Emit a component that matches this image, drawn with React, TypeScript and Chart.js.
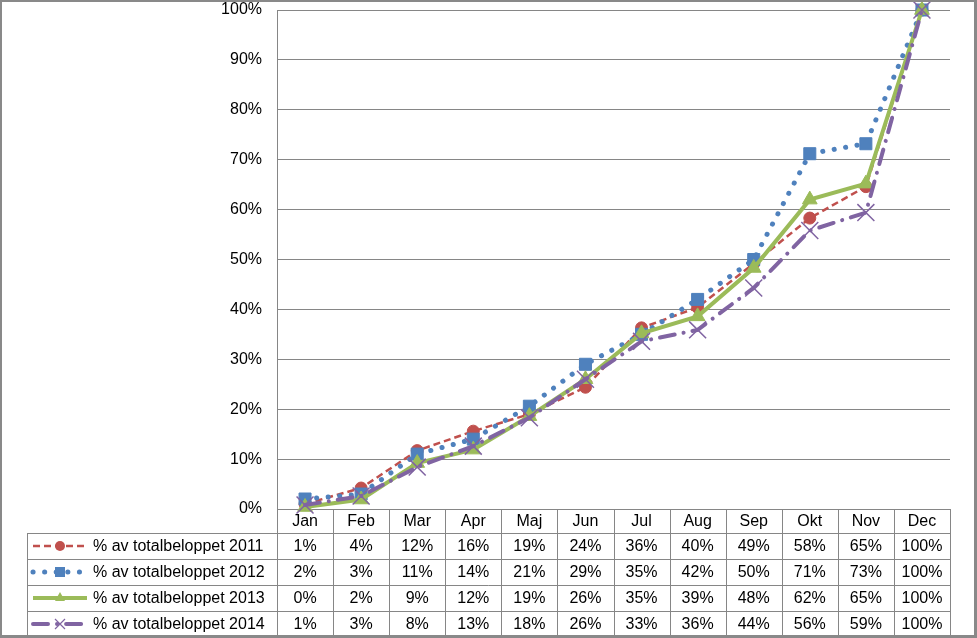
import React, { useEffect, useRef } from "react";
import { Chart, registerables } from "chart.js";

Chart.register(...registerables);

const months = ["Jan", "Feb", "Mar", "Apr", "Maj", "Jun", "Jul", "Aug", "Sep", "Okt", "Nov", "Dec"];
const seriesNames = [
  "% av totalbeloppet 2011",
  "% av totalbeloppet 2012",
  "% av totalbeloppet 2013",
  "% av totalbeloppet 2014",
];
// plotted values (%)
const values2011 = [1.0, 4.2, 11.7, 15.6, 19.0, 24.4, 36.3, 40.4, 49.2, 58.3, 64.6, 100];
const values2012 = [2.0, 3.0, 11.0, 14.0, 20.6, 29.0, 35.0, 42.0, 50.0, 71.2, 73.2, 100];
const values2013 = [0.4, 1.9, 9.2, 11.9, 18.6, 26.0, 35.2, 38.6, 48.3, 62.0, 65.2, 100];
const values2014 = [0.8, 2.6, 8.4, 12.6, 18.3, 26.0, 33.6, 35.9, 44.3, 55.8, 59.4, 100];
// data table labels
const table2011 = ["1%", "4%", "12%", "16%", "19%", "24%", "36%", "40%", "49%", "58%", "65%", "100%"];
const table2012 = ["2%", "3%", "11%", "14%", "21%", "29%", "35%", "42%", "50%", "71%", "73%", "100%"];
const table2013 = ["0%", "2%", "9%", "12%", "19%", "26%", "35%", "39%", "48%", "62%", "65%", "100%"];
const table2014 = ["1%", "3%", "8%", "13%", "18%", "26%", "33%", "36%", "44%", "56%", "59%", "100%"];
const yStep = 10;

const FONT = "16px 'Liberation Sans', Arial, sans-serif";
const GRID = "#868686";

const styles = [
  { color: "#C0504D", width: 2.5, dash: [7, 4], cap: "butt", point: "circle", radius: 6 },
  { color: "#4F81BD", width: 5, dash: [0.1, 11.5], cap: "round", point: "rect", radius: 8.5 },
  { color: "#9BBB59", width: 4, dash: [], cap: "butt", point: "triangle", radius: 8.5 },
  { color: "#8064A2", width: 4, dash: [15, 9, 0.1, 9], cap: "round", point: "crossRot", radius: 12 },
];

const tablePlugin = {
  id: "dataTable",
  afterDraw(chart: any) {
    const ctx = chart.ctx as CanvasRenderingContext2D;
    const area = chart.chartArea;
    const xs = chart.scales.x;
    const colW = (area.right - area.left) / months.length;
    const top = area.bottom;
    const headerBottom = top + 24;
    const rowH = 26;
    const tableBottom = headerBottom + rowH * 4;
    const legendLeft = 27;
    ctx.save();
    ctx.strokeStyle = GRID;
    ctx.lineWidth = 1;
    for (let i = 0; i <= months.length; i++) {
      const x = Math.round(area.left + i * colW) + 0.5;
      ctx.beginPath();
      ctx.moveTo(x, top);
      ctx.lineTo(x, tableBottom);
      ctx.stroke();
    }
    ctx.beginPath();
    ctx.moveTo(legendLeft + 0.5, headerBottom);
    ctx.lineTo(legendLeft + 0.5, tableBottom);
    ctx.stroke();
    for (let r = 0; r <= 4; r++) {
      const y = Math.round(headerBottom + r * rowH) + 0.5;
      ctx.beginPath();
      ctx.moveTo(legendLeft, y);
      ctx.lineTo(Math.round(area.right) + 0.5, y);
      ctx.stroke();
    }
    ctx.fillStyle = "#000";
    ctx.font = FONT;
    ctx.textAlign = "center";
    ctx.textBaseline = "middle";
    months.forEach((m, i) => {
      ctx.fillText(m, xs.getPixelForValue(i), (top + headerBottom) / 2 + 1);
    });
    const tables = [table2011, table2012, table2013, table2014];
    tables.forEach((row, r) => {
      const cy = headerBottom + r * rowH + rowH / 2 + 1;
      row.forEach((v, i) => {
        ctx.fillText(v, xs.getPixelForValue(i), cy);
      });
      const st = styles[r];
      const ly = headerBottom + r * rowH + rowH / 2;
      ctx.save();
      ctx.strokeStyle = st.color;
      ctx.lineWidth = st.width;
      ctx.lineCap = st.cap as CanvasLineCap;
      ctx.setLineDash(st.dash);
      ctx.beginPath();
      ctx.moveTo(33, ly);
      ctx.lineTo(87, ly);
      ctx.stroke();
      ctx.restore();
      ctx.save();
      ctx.fillStyle = st.color;
      ctx.strokeStyle = st.color;
      const mx = 60;
      if (st.point === "circle") {
        ctx.beginPath();
        ctx.arc(mx, ly, 5, 0, Math.PI * 2);
        ctx.fill();
      } else if (st.point === "rect") {
        ctx.fillRect(mx - 5, ly - 5, 10, 10);
      } else if (st.point === "triangle") {
        ctx.beginPath();
        ctx.moveTo(mx, ly - 6);
        ctx.lineTo(mx + 5, ly + 3);
        ctx.lineTo(mx - 5, ly + 3);
        ctx.closePath();
        ctx.fill();
      } else {
        ctx.lineWidth = 1.2;
        ctx.beginPath();
        ctx.moveTo(mx - 5, ly - 5);
        ctx.lineTo(mx + 5, ly + 5);
        ctx.moveTo(mx + 5, ly - 5);
        ctx.lineTo(mx - 5, ly + 5);
        ctx.stroke();
      }
      ctx.restore();
      ctx.fillStyle = "#000";
      ctx.textAlign = "left";
      ctx.fillText(seriesNames[r], 93, cy);
      ctx.textAlign = "center";
    });
    ctx.fillStyle = "#898989";
    const W = chart.width;
    const H = chart.height;
    ctx.fillRect(0, 0, W, 2);
    ctx.fillRect(0, 0, 2, H);
    ctx.fillRect(W - 3, 0, 3, H);
    ctx.fillRect(0, H - 3, W, 3);
    ctx.restore();
  },
};

export default function App() {
  const ref = useRef<HTMLCanvasElement>(null);
  useEffect(() => {
    if (!ref.current) return;
    const allValues = [values2011, values2012, values2013, values2014];
    const chart = new Chart(ref.current, {
      type: "line",
      data: {
        labels: months,
        datasets: allValues.map((vals, i) => {
          const st = styles[i];
          return {
            label: seriesNames[i],
            data: vals,
            borderColor: st.color,
            backgroundColor: st.color,
            borderWidth: st.width,
            borderDash: st.dash,
            borderCapStyle: st.cap as any,
            pointStyle: st.point as any,
            pointRadius: st.radius,
            pointBackgroundColor: st.color,
            pointBorderColor: st.color,
            pointBorderWidth: st.point === "crossRot" ? 1.5 : 1,
            tension: 0,
            fill: false,
            clip: false as any,
            order: 3 - i,
          };
        }),
      },
      options: {
        responsive: false,
        animation: false,
        devicePixelRatio: 1,
        layout: { autoPadding: false, padding: { left: 0, top: 10, right: 27, bottom: 129 } },
        plugins: { legend: { display: false }, tooltip: { enabled: false } },
        scales: {
          x: { display: false, offset: true },
          y: {
            min: 0,
            max: 100,
            afterFit: (s: any) => {
              s.width = 277;
              s.paddingTop = 0;
              s.paddingBottom = 0;
            },
            ticks: {
              stepSize: yStep,
              color: "#000",
              font: { family: "'Liberation Sans', Arial, sans-serif", size: 16 },
              padding: 15,
              callback: (v: any) => `${v}%`,
            },
            grid: { color: GRID, lineWidth: 1, drawTicks: false },
            border: { display: true, color: GRID, width: 1 },
          },
        },
      },
      plugins: [tablePlugin],
    });
    return () => chart.destroy();
  }, []);
  return (
    <div style={{ position: "fixed", left: 0, top: 0, width: 977, height: 638, background: "#fff" }}>
      <canvas ref={ref} width={977} height={638} style={{ width: 977, height: 638 }} />
    </div>
  );
}
